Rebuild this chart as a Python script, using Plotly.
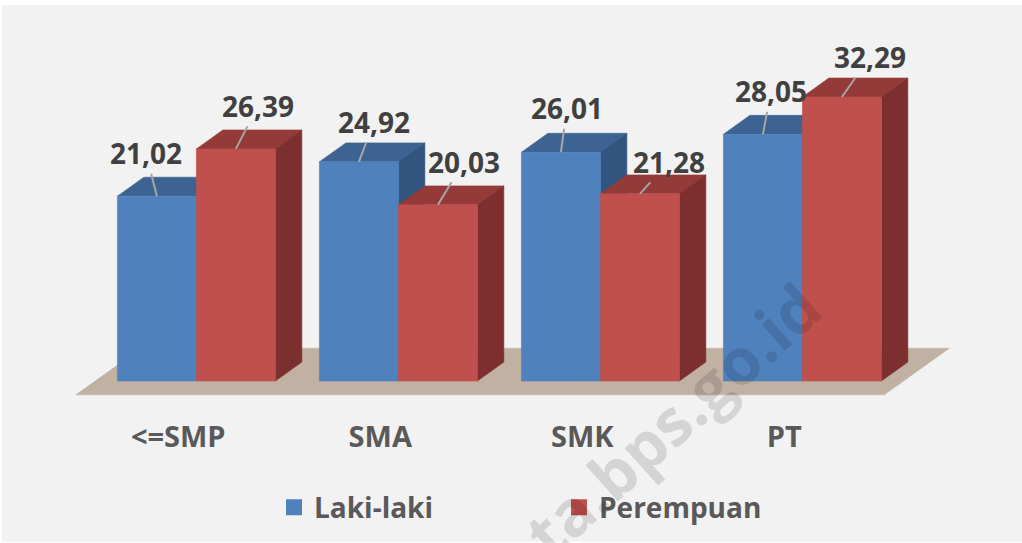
import plotly.graph_objects as go

# ---- data ----
categories = ["<=SMP", "SMA", "SMK", "PT"]
series_names = ["Laki-laki", "Perempuan"]
laki = [21.02, 24.92, 26.01, 28.05]
perempuan = [26.39, 20.03, 21.28, 32.29]

# ---- style / geometry ----
FONT = "Open Sans"
front_col = ["#4f81bd", "#c0504d"]
top_col = ["#3c6391", "#943a38"]
side_col = ["#325580", "#7c2f2e"]
floor_col = "#c1b1a3"
BAR_W = 0.391          # bar width in category units
DDX = 0.131            # 3D depth, x units
DDY = 2.155            # 3D depth, y units
FLOOR_PAD = 0.11
FLOOR_K = 0.73
label_dx = [[-11, 15, 6, 8], [22, 26, 29, 28]]
label_dy = [[-43, -40, -44, -43], [-43, -43, -32, -40]]

L, R, T, B = 55, 58, 38, 117
W, H = 1022, 543
PW, PH = W - L - R, H - T - B


def fmt(v):
    return f"{v:.2f}".replace(".", ",")


def ppx(px):
    return (px - L) / PW


def ppy(py):
    return 1 - (py - T) / PH


fig = go.Figure()

n = len(categories)
# floor
xl = 0 - BAR_W - FLOOR_PAD
xr = (n - 1) + BAR_W + FLOOR_PAD
fx = [xl - FLOOR_K * DDX, xr - FLOOR_K * DDX, xr + (1 + FLOOR_K) * DDX, xl + (1 + FLOOR_K) * DDX, xl - FLOOR_K * DDX]
fy = [-FLOOR_K * DDY, -FLOOR_K * DDY, (1 + FLOOR_K) * DDY, (1 + FLOOR_K) * DDY, -FLOOR_K * DDY]
fig.add_trace(go.Scatter(x=fx, y=fy, fill="toself", fillcolor=floor_col, mode="lines",
                         line=dict(color=floor_col, width=0.5), hoverinfo="skip", showlegend=False))

values = [laki, perempuan]
for i in range(n):
    for s in range(2):
        h = values[s][i]
        x0 = i - BAR_W if s == 0 else i
        x1 = x0 + BAR_W
        faces = [
            ([x0, x1, x1 + DDX, x0 + DDX, x0], [h, h, h + DDY, h + DDY, h], top_col[s]),
            ([x1, x1 + DDX, x1 + DDX, x1, x1], [0, DDY, h + DDY, h, 0], side_col[s]),
            ([x0, x1, x1, x0, x0], [0, 0, h, h, 0], front_col[s]),
        ]
        for xs, ys, c in faces:
            fig.add_trace(go.Scatter(x=xs, y=ys, fill="toself", fillcolor=c, mode="lines",
                                     line=dict(color=c, width=0.6), hoverinfo="skip",
                                     showlegend=False))

# legend entries
for s in range(2):
    fig.add_trace(go.Scatter(x=[None], y=[None], mode="markers", name=series_names[s],
                             marker=dict(symbol="square", size=16, color=front_col[s])))

# data labels
for s in range(2):
    for i in range(n):
        h = values[s][i]
        xc = i - BAR_W / 2 if s == 0 else i + BAR_W / 2
        fig.add_annotation(x=xc, y=h, text=fmt(h), showarrow=True, arrowhead=0,
                           arrowwidth=2, arrowcolor="#a6a6a6", standoff=0,
                           ax=label_dx[s][i], ay=label_dy[s][i],
                           font=dict(family=FONT, size=28, color="#404040", weight="bold"))

# watermark
fig.add_annotation(x=ppx(672), y=ppy(420), xref="paper", yref="paper", text="ta.bps.go.id",
                   xanchor="center", yanchor="middle",
                   showarrow=False, textangle=-42,
                   font=dict(family=FONT, size=64, color="rgba(0,0,0,0.12)", weight="bold"))

# white frame / grey background
fig.add_shape(type="rect", xref="paper", yref="paper", x0=ppx(2), x1=ppx(1022), y0=ppy(543), y1=ppy(5),
              fillcolor="#f2f2f2", line=dict(width=0), layer="below")

fig.update_layout(
    width=W, height=H,
    margin=dict(l=L, r=R, t=T, b=B),
    paper_bgcolor="white",
    plot_bgcolor="rgba(0,0,0,0)",
    xaxis=dict(range=[-0.7, 3.8], tickvals=[i - 0.09 for i in range(n)],
               ticktext=[c.replace("<", "&lt;") for c in categories],
               tickfont=dict(family=FONT, size=29, color="#595959", weight="bold"),
               ticklabelstandoff=-8,
               showgrid=False, zeroline=False, showline=False, ticks="", fixedrange=True),
    yaxis=dict(range=[-5, 39], visible=False, fixedrange=True),
    showlegend=True,
    legend=dict(orientation="h", x=ppx(274), xanchor="left", y=ppy(507.5), yanchor="middle",
                entrywidth=240, entrywidthmode="pixels", bgcolor="rgba(0,0,0,0)",
                font=dict(family=FONT, size=28, color="#595959", weight="bold")),
)

fig.write_html("out.html", config={"displayModeBar": False},
               post_script="document.body.style.margin='0px';")
